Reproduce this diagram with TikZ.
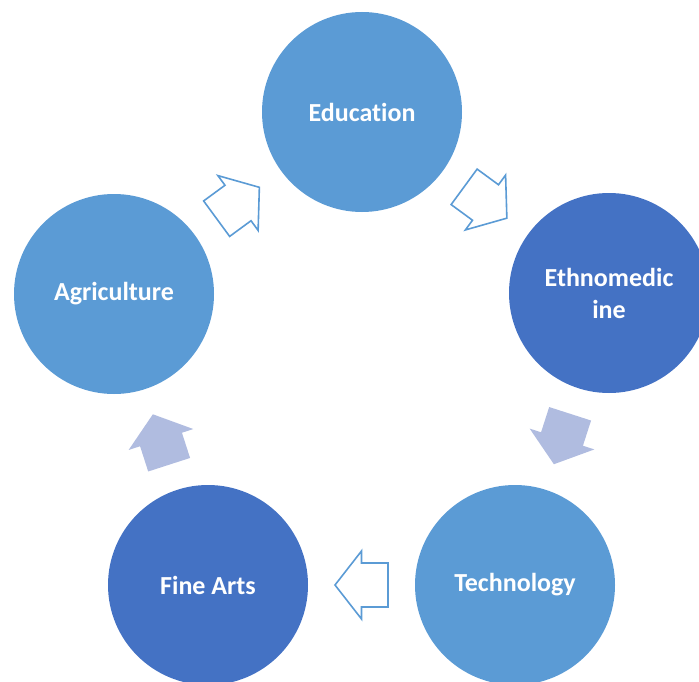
\documentclass[tikz,border=0pt]{standalone}
\usepackage{fontspec}
\setmainfont{Carlito}[Ligatures=NoCommon]
\usetikzlibrary{calc}
\definecolor{lblue}{HTML}{5B9BD5}
\definecolor{dblue}{HTML}{4472C4}
\definecolor{afill}{HTML}{B0BCE0}
\tikzset{
  topic/.style={circle, minimum size=200pt, inner sep=0pt, text=white,
    font=\fontsize{26}{32}\selectfont\bfseries, align=center},
  light/.style={topic, fill=lblue},
  dark/.style={topic, fill=dblue},
  openarrow/.style={draw=lblue, line width=1.6pt, fill=white, line join=miter},
  fullarrow/.style={fill=afill, draw=none}
}
\newcommand\blkarrow[3]{%
  \coordinate (m) at ($(#1)!0.5!(#2)$);
  \coordinate (tl) at ($(m)!26.5pt!(#1)$);
  \coordinate (tp) at ($(m)!26.5pt!(#2)$);
  \path[#3] ($(tl)!22pt!90:(m)$) -- ($(m)!22pt!-90:(tl)$) -- ($(m)!34pt!-90:(tl)$)
    -- (tp) -- ($(m)!34pt!90:(tl)$) -- ($(m)!22pt!90:(tl)$) -- ($(tl)!22pt!-90:(m)$) -- cycle;
}
\begin{document}
\begin{tikzpicture}[x=1pt,y=-1pt]
\useasboundingbox (0,0) rectangle (699,682);
\clip (0,0) rectangle (699,682);
\node[light] (edu) at (362,112) {Education};
\node[dark] (eth) at (609,293) {Ethnomedic\\ine};
\node[light] (tech) at (515,585) {Technology};
\node[dark] (fine) at (208,585) {Fine Arts};
\node[light] (agri) at (114,294) {Agriculture};
\blkarrow{agri}{edu}{openarrow}
\blkarrow{edu}{eth}{openarrow}
\blkarrow{eth}{tech}{fullarrow}
\blkarrow{tech}{fine}{openarrow}
\blkarrow{fine}{agri}{fullarrow}
\end{tikzpicture}
\end{document}
